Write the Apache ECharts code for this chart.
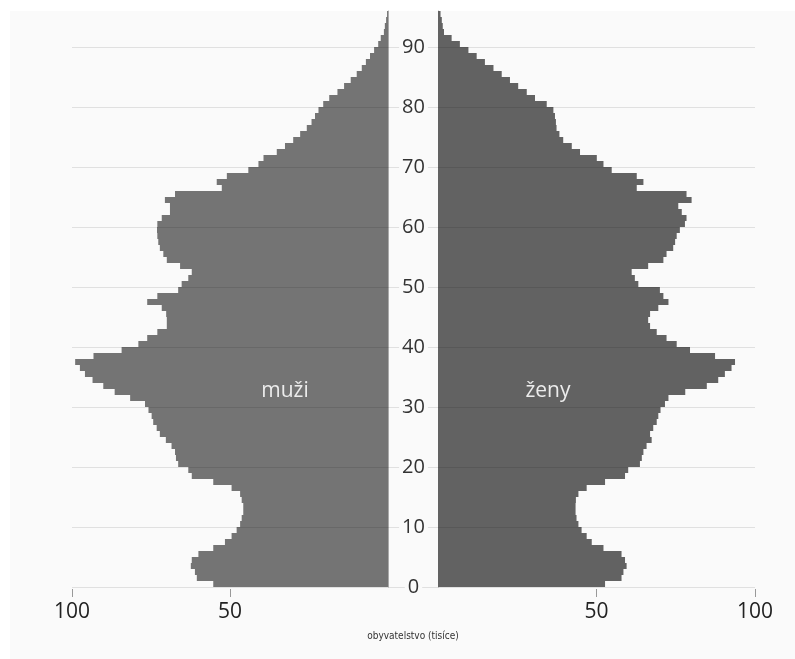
<!DOCTYPE html>
<html><head><meta charset="utf-8">
<script src="https://cdn.jsdelivr.net/npm/echarts@6/dist/echarts.min.js"></script>
<style>html,body{margin:0;padding:0;background:#fff;}#c{width:795px;height:659px;}</style>
</head><body><div id="c"></div>
<script>
// age categories (single years, 0 .. 95+)
const ages = [0,1,2,3,4,5,6,7,8,9,10,11,12,13,14,15,16,17,18,19,20,21,22,23,24,25,26,27,28,29,30,31,32,33,34,35,36,37,38,39,40,41,42,43,44,45,46,47,48,49,50,51,52,53,54,55,56,57,58,59,60,61,62,63,64,65,66,67,68,69,70,71,72,73,74,75,76,77,78,79,80,81,82,83,84,85,86,87,88,89,90,91,92,93,94,95];
// men (thousands), index = age
const men = [55.3,60.5,61.1,62.4,62.1,60.0,55.3,51.6,49.5,47.9,
  46.8,46.3,45.8,45.8,46.3,46.8,49.5,55.3,62.1,63.2,
  66.4,67.1,67.4,68.5,70.3,72.2,73.2,74.3,74.8,75.8,
  76.9,81.6,86.5,90.1,93.5,95.9,97.5,99.0,93.2,84.3,
  79.0,76.2,73.0,70.0,70.0,70.2,71.6,76.2,73.0,66.4,
  65.3,63.2,62.1,65.8,70.0,71.1,72.2,72.7,73.0,73.1,
  73.0,71.6,69.0,69.0,70.6,67.4,52.6,54.2,51.0,44.2,
  41.0,39.4,35.2,32.6,30.0,27.8,25.7,24.2,23.1,22.0,
  20.5,18.6,16.0,13.9,11.8,9.9,8.3,7.0,5.7,4.4,
  3.1,2.3,1.3,1.0,0.6,0.3];
// women (thousands), index = age
const women = [52.7,57.9,58.5,59.5,59.0,57.9,52.2,48.5,46.9,45.3,
  44.3,43.7,43.4,43.4,43.5,44.3,46.9,52.7,59.0,60.0,
  63.7,64.3,64.8,65.8,67.4,66.9,67.9,69.0,69.5,70.2,
  71.6,72.7,78.0,84.8,88.4,90.5,92.6,93.7,87.4,79.5,
  75.3,72.1,69.0,66.9,66.3,66.9,69.5,72.7,71.1,70.0,
  63.2,62.1,61.1,66.3,71.1,72.1,74.2,74.8,75.3,76.3,
  77.9,78.4,76.9,75.8,80.0,78.4,62.7,64.8,62.7,54.8,
  52.2,50.1,44.8,42.2,39.5,38.3,37.4,37.2,36.9,36.4,
  34.3,30.6,28.0,25.3,22.7,20.1,17.5,14.8,12.2,9.6,
  6.9,4.3,1.9,1.5,1.2,0.8];
const ageTicks = [0,10,20,30,40,50,60,70,80,90];
const popTicks = [50,100];
const labelMen = 'muži';
const labelWomen = 'ženy';
const axisTitle = 'obyvatelstvo (tisíce)';

const FONT = '"Open Sans", "DejaVu Sans", sans-serif';
const chart = echarts.init(document.getElementById('c'), null, {renderer: 'canvas'});

function popAxis(grid, inverse) {
  return {
    gridIndex: grid, type: 'value', inverse: inverse, min: 0, max: 100, interval: 50,
    offset: 2,
    splitLine: {show: false},
    axisLine: {show: false},
    axisTick: {show: true, length: 8, customValues: popTicks, lineStyle: {color: '#999', width: 1}},
    axisLabel: {customValues: popTicks, margin: 13, fontSize: 21, fontFamily: FONT, color: '#222'}
  };
}

chart.setOption({
  animation: false,
  backgroundColor: '#ffffff',
  graphic: [
    {type: 'rect', z: -10, shape: {x: 10, y: 11, width: 785, height: 648}, style: {fill: '#fafafa'}},
    {type: 'text', z: 100, x: 285, y: 391, style: {text: labelMen, fill: '#ececec', font: '21px ' + FONT, align: 'center', verticalAlign: 'middle'}},
    {type: 'text', z: 100, x: 548, y: 391, style: {text: labelWomen, fill: '#ececec', font: '21px ' + FONT, align: 'center', verticalAlign: 'middle'}},
    {type: 'text', z: 100, x: 413, y: 636, style: {text: axisTitle, fill: '#333', font: '10px "DejaVu Sans Condensed", sans-serif', align: 'center', verticalAlign: 'middle'}}
  ],
  grid: [
    {left: 72, top: 11, width: 316, height: 576},
    {left: 438, top: 11, width: 317, height: 576},
    {left: 72, top: 11, width: 683, height: 576}
  ],
  xAxis: [
    popAxis(0, true),
    popAxis(1, false),
    {gridIndex: 2, type: 'value', show: false, min: 0, max: 1}
  ],
  yAxis: [
    {gridIndex: 0, type: 'category', data: ages, position: 'right',
     axisLine: {show: true, lineStyle: {color: '#aaa'}}, axisTick: {show: false}, axisLabel: {show: false}, splitLine: {show: false}},
    {gridIndex: 1, type: 'category', data: ages, position: 'left',
     axisLine: {show: true, lineStyle: {color: '#aaa'}}, axisTick: {show: false}, axisLabel: {show: false}, splitLine: {show: false}},
    {gridIndex: 2, type: 'value', min: 0, max: 96, interval: 10, z: 3, position: 'left',
     axisLine: {show: false}, axisTick: {show: false}, axisLabel: {show: false},
     splitLine: {show: true, showMaxLine: false, lineStyle: {color: 'rgba(0,0,0,0.1)', width: 1}}},
    {gridIndex: 2, type: 'value', min: 0, max: 96, interval: 10, z: 4, position: 'left',
     axisLine: {show: false}, axisTick: {show: false}, splitLine: {show: false},
     axisLabel: {inside: true, margin: 341.5, align: 'center', customValues: ageTicks,
       backgroundColor: '#fafafa', padding: [1, 3], fontSize: 20, fontFamily: FONT, color: '#333'}}
  ],
  series: [
    {type: 'bar', xAxisIndex: 0, yAxisIndex: 0, data: men, barWidth: '100%', barCategoryGap: 0,
     itemStyle: {color: '#747474'}, silent: true},
    {type: 'bar', xAxisIndex: 1, yAxisIndex: 1, data: women, barWidth: '100%', barCategoryGap: 0,
     itemStyle: {color: '#626262'}, silent: true}
  ]
});
</script>
</body></html>
